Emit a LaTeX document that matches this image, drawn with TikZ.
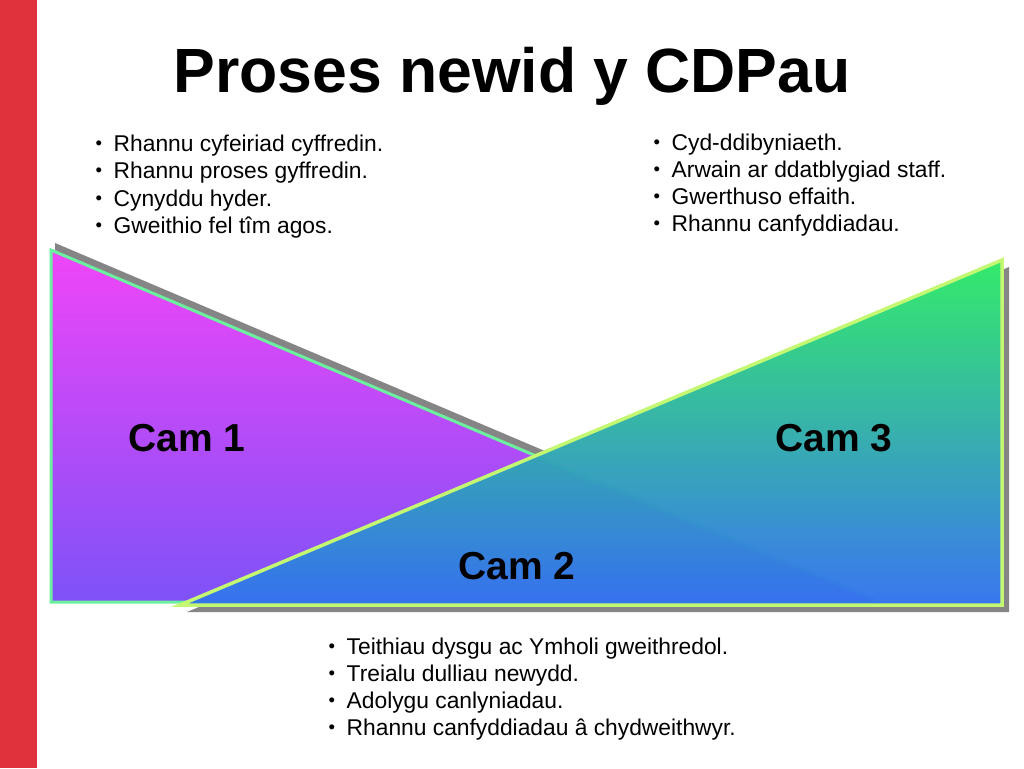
\documentclass[tikz,border=0pt]{standalone}
\usepackage{fontspec}
\setmainfont{Liberation Sans}

\definecolor{bar}{HTML}{E0323C}
\definecolor{cysgod}{HTML}{858585}
\definecolor{pinc}{HTML}{F045F8}
\definecolor{porffor}{HTML}{7E52F8}
\definecolor{ffinchwith}{HTML}{6CF0A0}
\definecolor{gwyrdd}{HTML}{2EEA66}
\definecolor{gwyrddlas}{HTML}{3CD2C2}
\definecolor{glas}{HTML}{3472F0}
\definecolor{ffinde}{HTML}{C4F872}

\begin{document}
\begin{tikzpicture}[x=1pt,y=-1pt,
  pwynt/.style={anchor=base west,inner sep=0pt,font=\fontsize{22.8}{27}\selectfont},
  bwled/.style={anchor=base west,inner sep=0pt,font=\fontsize{18.5}{27}\selectfont},
  cam/.style={font=\fontsize{39}{44}\selectfont\bfseries},
  cysgodlun/.style={fill=cysgod}]

\useasboundingbox(0,0)rectangle(1024,768);
\fill[white](0,0)rectangle(1024,768);
\fill[bar](0,0)rectangle(37,768);

% teitl
\node(teitl)at(512,92)[anchor=base,font=\fontsize{62.5}{70}\selectfont\bfseries]{Proses newid y CDPau};

% trionglau
\fill[cysgodlun](187,612)--(1009,612)--(1009,267)--cycle;
\fill[cysgodlun](55,243)--(55,595)--(884,595)--cycle;
\fill[white](180,605)--(1002,605)--(1002,260)--cycle;
\shadedraw[top color=pinc,bottom color=porffor,draw=ffinchwith,line width=3pt](51,250)--(51,602)--(880,602)--cycle;
\shadedraw[top color=gwyrdd,middle color=gwyrddlas,bottom color=glas,draw=ffinde,line width=3.5pt,fill opacity=0.97](180,605)--(1002,605)--(1002,260)--cycle;

\node(cam1)at(187,438)[cam]{Cam 1};
\node(cam2)at(517,566)[cam]{Cam 2};
\node(cam3)at(834,438)[cam]{Cam 3};

% chwith
\node(bl1)at(95.5,149.5)[bwled]{\textbullet};\node(l1)at(113.5,151)[pwynt]{Rhannu cyfeiriad cyffredin.};
\node(bl2)at(95.5,176.5)[bwled]{\textbullet};\node(l2)at(113.5,178)[pwynt]{Rhannu proses gyffredin.};
\node(bl3)at(95.5,204.5)[bwled]{\textbullet};\node(l3)at(113.5,206)[pwynt]{Cynyddu hyder.};
\node(bl4)at(95.5,231.5)[bwled]{\textbullet};\node(l4)at(113.5,233)[pwynt]{Gweithio fel tîm agos.};

% de
\node(br1)at(653.5,148.5)[bwled]{\textbullet};\node(r1)at(671.5,150)[pwynt]{Cyd-ddibyniaeth.};
\node(br2)at(653.5,175.5)[bwled]{\textbullet};\node(r2)at(671.5,177)[pwynt]{Arwain ar ddatblygiad staff.};
\node(br3)at(653.5,202.5)[bwled]{\textbullet};\node(r3)at(671.5,204)[pwynt]{Gwerthuso effaith.};
\node(br4)at(653.5,229.5)[bwled]{\textbullet};\node(r4)at(671.5,231)[pwynt]{Rhannu canfyddiadau.};

% gwaelod
\node(bg1)at(328.5,652.5)[bwled]{\textbullet};\node(g1)at(346.5,654)[pwynt]{Teithiau dysgu ac Ymholi gweithredol.};
\node(bg2)at(328.5,679.5)[bwled]{\textbullet};\node(g2)at(346.5,681)[pwynt]{Treialu dulliau newydd.};
\node(bg3)at(328.5,706.5)[bwled]{\textbullet};\node(g3)at(346.5,708)[pwynt]{Adolygu canlyniadau.};
\node(bg4)at(328.5,733.5)[bwled]{\textbullet};\node(g4)at(346.5,735)[pwynt]{Rhannu canfyddiadau â chydweithwyr.};

\end{tikzpicture}
\end{document}
